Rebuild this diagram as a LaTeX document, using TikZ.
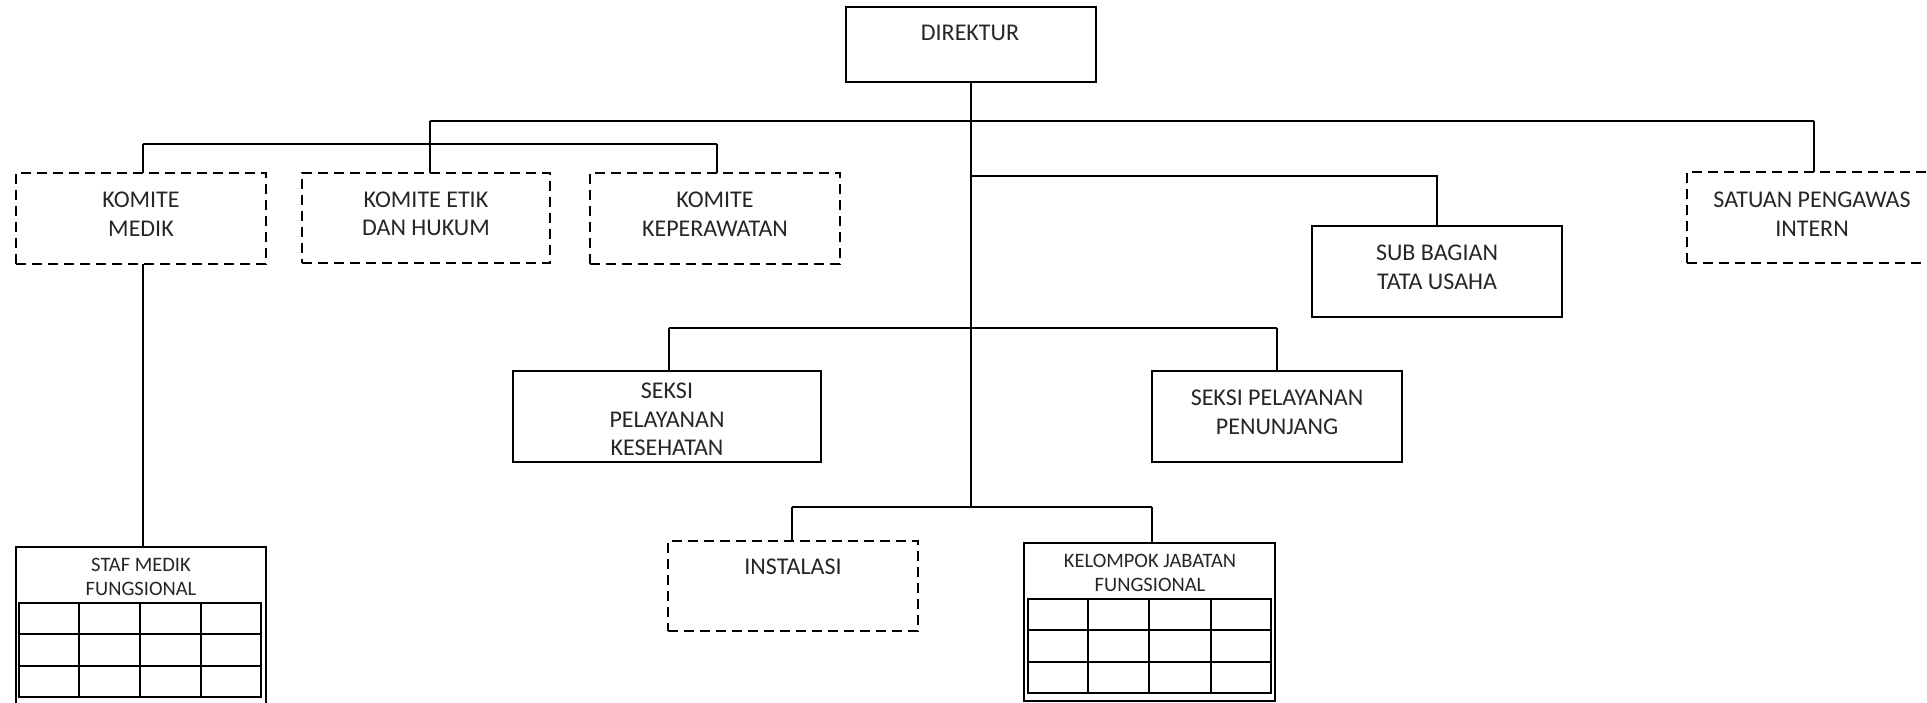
\documentclass[tikz,border=0pt]{standalone}
\usepackage{fontspec}
\setmainfont{Carlito}
\tikzset{
  box/.style={draw, line width=1.6pt, inner sep=0pt, outer sep=0pt},
  dbox/.style={box, dash pattern=on 10pt off 6pt},
  lbl/.style={align=center, inner sep=0pt, text=black!85, font=\fontsize{24}{28.5}\selectfont},
  slbl/.style={align=center, inner sep=0pt, text=black!85, font=\fontsize{20.5}{24}\selectfont},
  conn/.style={line width=1.6pt},
  tbl/.style={line width=2pt},
}
\begin{document}
\begin{tikzpicture}[x=1pt,y=-1pt]
\useasboundingbox (0,0) rectangle (1927,703);
\clip (0,0) rectangle (1927,703);
% boxes
\node[box, minimum width=250pt, minimum height=75pt] (dir) at (971,44.5) {};
\node[dbox, minimum width=250pt, minimum height=91pt] (kmed) at (141,218.5) {};
\node[dbox, minimum width=248pt, minimum height=90pt] (ketik) at (426,218) {};
\node[dbox, minimum width=250pt, minimum height=91pt] (kkep) at (715,218.5) {};
\node[dbox, minimum width=250pt, minimum height=91pt] (spi) at (1812,217.5) {};
\node[box, minimum width=250pt, minimum height=91pt] (sub) at (1437,271.5) {};
\node[box, minimum width=308pt, minimum height=91pt] (kes) at (667,416.5) {};
\node[box, minimum width=250pt, minimum height=91pt] (pen) at (1277,416.5) {};
\node[dbox, minimum width=250pt, minimum height=90pt] (inst) at (793,586) {};
\node[box, minimum width=251pt, minimum height=158pt] (kjf) at (1149.5,622) {};
\node[box, minimum width=250pt, minimum height=166pt] (smf) at (141,630) {};
% texts
\node[lbl] (tdir) at (970,33) {DIREKTUR};
\node[lbl] (tkmed) at (141,214) {KOMITE\\MEDIK};
\node[lbl] (tketik) at (426,214) {KOMITE ETIK\\DAN HUKUM};
\node[lbl] (tkkep) at (715,214) {KOMITE\\KEPERAWATAN};
\node[lbl] (tspi) at (1812,214) {SATUAN PENGAWAS\\INTERN};
\node[lbl] (tsub) at (1437,267.5) {SUB BAGIAN\\TATA USAHA};
\node[lbl] (tkes) at (667,419.5) {SEKSI\\PELAYANAN\\KESEHATAN};
\node[lbl] (tpen) at (1277,412.5) {SEKSI PELAYANAN\\PENUNJANG};
\node[lbl] (tinst) at (793,567) {INSTALASI};
\node[slbl] (tkjf) at (1150,573) {KELOMPOK JABATAN\\FUNGSIONAL};
\node[slbl] (tsmf) at (141,577) {STAF MEDIK\\FUNGSIONAL};
% tables
\draw[tbl] (19,603) rectangle (261,697);
\foreach \x in {79,140,201} \draw[tbl] (\x,603) -- (\x,697);
\foreach \y in {634,666} \draw[tbl] (19,\y) -- (261,\y);
\draw[tbl] (1028,599) rectangle (1271,693);
\foreach \x in {1088,1149,1211} \draw[tbl] (\x,599) -- (\x,693);
\foreach \y in {630,662} \draw[tbl] (1028,\y) -- (1271,\y);
% junctions
\coordinate (hl) at (430,121);
\coordinate (hr) at (1814,121);
\coordinate (kl) at (143,144);
\coordinate (kr) at (717,144);
\coordinate (sb) at (971,176);
\coordinate (sl) at (669,328);
\coordinate (sr) at (1277,328);
\coordinate (bl) at (792,507);
\coordinate (br) at (1152,507);
% connectors
\draw[conn] (dir.south) -- (971,507);
\draw[conn] (hl) -- (hr);
\draw[conn] (hl) -- (hl |- ketik.north);
\draw[conn] (hr) -- (hr |- spi.north);
\draw[conn] (kl) -- (kr);
\draw[conn] (kl) -- (kl |- kmed.north);
\draw[conn] (kr) -- (kr |- kkep.north);
\draw[conn] (sb) -- (sb -| sub.north) -- (sub.north);
\draw[conn] (sl) -- (sr);
\draw[conn] (sl) -- (sl |- kes.north);
\draw[conn] (sr) -- (pen.north);
\draw[conn] (bl) -- (br);
\draw[conn] (bl) -- (bl |- inst.north);
\draw[conn] (br) -- (br |- kjf.north);
\draw[conn] (kl |- kmed.south) -- (kl |- smf.north);
\end{tikzpicture}
\end{document}
